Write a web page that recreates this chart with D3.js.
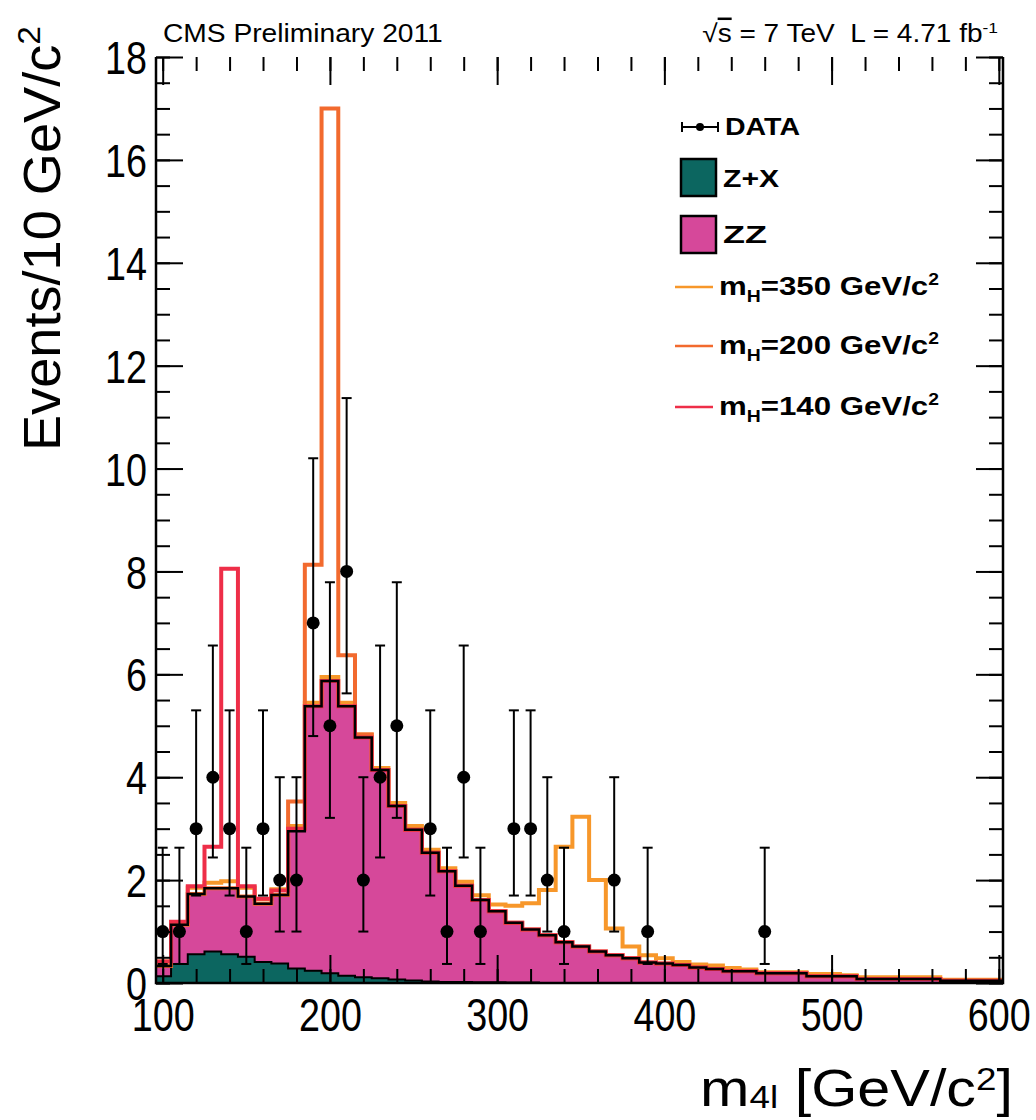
<!DOCTYPE html>
<html>
<head>
<meta charset="utf-8">
<script src="https://cdn.jsdelivr.net/npm/d3@7"></script>
<style>
body { margin:0; background:#fff }
svg { display:block }
text { font-family:'Liberation Sans', Arial, Helvetica, sans-serif; fill:#000; white-space:pre }
</style>
</head>
<body>
<div id="chart"></div>
<script>
// bin centres, 10 GeV wide
var massBins = [100,110,120,130,140,150,160,170,180,190,200,210,220,230,240,250,260,270,280,290,300,
	310,320,330,340,350,360,370,380,390,400,410,420,430,440,450,460,470,480,490,500,
	510,520,530,540,550,560,570,580,590,600]

var zxYield = [0.13,0.37,0.56,0.61,0.56,0.51,0.41,0.38,0.28,0.24,0.19,0.14,0.11,0.09,0.07,0.05,0.03,0.02,0.02,0.015,0.015,
	0.01,0.01,0,0,0,0,0,0,0,0,0,0,0,0,0,0,0,0,0,0,
	0,0,0,0,0,0,0,0,0,0]

var zzYield = [0.20,0.76,1.17,1.23,1.28,1.17,1.13,1.33,2.67,5.14,5.68,5.24,4.66,4.05,3.37,2.93,2.50,2.15,1.87,1.60,1.38,
	1.16,1.03,0.93,0.79,0.71,0.61,0.54,0.48,0.40,0.38,0.35,0.30,0.27,0.23,0.23,0.19,0.19,0.19,0.13,0.13,
	0.13,0.08,0.08,0.08,0.08,0.08,0.045,0.045,0.045,0.045]

// signal on top of the background
var sig350 = [0.09,0.05,0.12,0.11,0.14,0.17,0.09,0.11,0.10,0.07,0.08,0.07,0.06,0.04,0.06,0.07,0.06,0.06,0.08,0.09,0.13,
	0.33,0.51,0.88,1.86,2.52,1.39,0.52,0.23,0.14,0.10,0.06,0.06,0.07,0.06,0.03,0.02,0.02,0.02,0.045,0.045,
	0.02,0.03,0.03,0.03,0.03,0.03,0.02,0.02,0.02,0.02]

var sig200 = [0,0,0,0,0,0,0,0,0.58,2.75,11.13,0.99,0.06,0,0,0,0,0,0,0,0,
	0,0,0,0,0,0,0,0,0,0,0,0,0,0,0,0,0,0,0,0,
	0,0,0,0,0,0,0,0,0,0]

var sig140 = [0.09,0.06,0.15,0.81,6.21,0.20,0.10,0.09,0.05,0,0,0,0,0,0,0,0,0,0,0,0,
	0,0,0,0,0,0,0,0,0,0,0,0,0,0,0,0,0,0,0,0,
	0,0,0,0,0,0,0,0,0,0]

var dataMass  = [100,110,120,130,140,150,160,170,180,190,200,210,220,230,240,260,270,280,290,310,320,330,340,370,390,460]
var dataCount = [1,1,3,4,3,1,3,2,2,7,5,8,2,4,5,3,1,4,1,3,3,2,1,2,1,1]
var dataErrDown = [0.63,0.63,1.3,1.56,1.3,0.63,1.3,1.0,1.0,2.2,1.79,2.37,1.0,1.56,1.79,1.3,0.63,1.56,0.63,1.3,1.3,1.0,0.63,1.0,0.63,0.63]
var dataErrUp   = [1.63,1.63,2.3,2.56,2.3,1.63,2.3,2.0,2.0,3.2,2.79,3.37,2.0,2.56,2.79,2.3,1.63,2.56,1.63,2.3,2.3,2.0,1.63,2.0,1.63,1.63]

var xTickLabels = [100,200,300,400,500,600]
var yTickLabels = [0,2,4,6,8,10,12,14,16,18]

var colZX = '#0c6660', colZZ = '#d6489a'
var col350 = '#f7972a', col200 = '#f26a2e', col140 = '#ee2e48'

var W = 1036, H = 1120
var svg = d3.select('#chart').append('svg').attr('width', W).attr('height', H)

var x = d3.scaleLinear().domain([96, 602.5]).range([156, 1003])
var y = d3.scaleLinear().domain([0, 18]).range([983, 57])

svg.append('clipPath').attr('id','plotclip')
	.append('rect').attr('x', x(96)).attr('y', 0).attr('width', x(602.5) - x(96)).attr('height', y(0))

// stacked totals
var zxTop = zxYield.slice()
var bkgTop = zxYield.map(function(v,i){ return v + zzYield[i] })
var tot350 = bkgTop.map(function(v,i){ return v + sig350[i] })
var tot200 = bkgTop.map(function(v,i){ return v + sig200[i] })
var tot140 = bkgTop.map(function(v,i){ return v + sig140[i] })

function steps(vals) {
	var pts = massBins.map(function(m,i){ return [m - 5, vals[i]] })
	pts.push([massBins[massBins.length-1] + 5, vals[vals.length-1]])
	return pts
}

var line = d3.line().x(function(d){ return x(d[0]) }).y(function(d){ return y(d[1]) }).curve(d3.curveStepAfter)
var area = d3.area().x(function(d){ return x(d[0]) }).y0(y(0)).y1(function(d){ return y(d[1]) }).curve(d3.curveStepAfter)

var plot = svg.append('g').attr('clip-path','url(#plotclip)')

plot.append('path').attr('d', area(steps(bkgTop))).attr('fill', colZZ)
plot.append('path').attr('d', area(steps(zxTop))).attr('fill', colZX)
plot.append('path').attr('d', line(steps(zxTop))).attr('fill','none').attr('stroke','#000').attr('stroke-width',2)

plot.append('path').attr('d', line(steps(tot350))).attr('fill','none').attr('stroke', col350).attr('stroke-width',4)
plot.append('path').attr('d', line(steps(tot200))).attr('fill','none').attr('stroke', col200).attr('stroke-width',4)
plot.append('path').attr('d', line(steps(tot140))).attr('fill','none').attr('stroke', col140).attr('stroke-width',4)

plot.append('path').attr('d', line(steps(bkgTop))).attr('fill','none').attr('stroke','#000').attr('stroke-width',2.5)

// data points
var pts = svg.append('g').selectAll('g')
	.data(dataMass.map(function(m,i){ return {m:m, n:dataCount[i], lo:dataCount[i]-dataErrDown[i], hi:dataCount[i]+dataErrUp[i]} }))
	.enter().append('g')
pts.append('line').attr('x1', function(d){ return x(d.m) }).attr('x2', function(d){ return x(d.m) })
	.attr('y1', function(d){ return y(d.lo) }).attr('y2', function(d){ return y(d.hi) })
	.attr('stroke','#000').attr('stroke-width',2)
pts.append('line').attr('x1', function(d){ return x(d.m) - 5 }).attr('x2', function(d){ return x(d.m) + 5 })
	.attr('y1', function(d){ return y(d.lo) }).attr('y2', function(d){ return y(d.lo) })
	.attr('stroke','#000').attr('stroke-width',2)
pts.append('line').attr('x1', function(d){ return x(d.m) - 5 }).attr('x2', function(d){ return x(d.m) + 5 })
	.attr('y1', function(d){ return y(d.hi) }).attr('y2', function(d){ return y(d.hi) })
	.attr('stroke','#000').attr('stroke-width',2)
pts.append('circle').attr('cx', function(d){ return x(d.m) }).attr('cy', function(d){ return y(d.n) })
	.attr('r', 6.5).attr('fill','#000')

// axes ticks
var xMinor = d3.range(100, 601, 20)
var yMinor = d3.range(0, 18.01, 0.5)
function noDomain(g) { g.select('.domain').remove(); g.selectAll('line').attr('stroke','#000').attr('stroke-width',2) }

svg.append('g').attr('transform','translate(0,'+y(0)+')')
	.call(d3.axisBottom(x).tickValues(xMinor).tickSize(-14).tickFormat('')).call(noDomain)
svg.append('g').attr('transform','translate(0,'+y(18)+')')
	.call(d3.axisTop(x).tickValues(xMinor).tickSize(-14).tickFormat('')).call(noDomain)
svg.append('g').attr('transform','translate(0,'+y(18)+')')
	.call(d3.axisTop(x).tickValues(xTickLabels).tickSize(-28).tickFormat('')).call(noDomain)
svg.append('g').attr('transform','translate('+x(96)+',0)')
	.call(d3.axisLeft(y).tickValues(yMinor).tickSize(-14).tickFormat('')).call(noDomain)
svg.append('g').attr('transform','translate('+x(602.5)+',0)')
	.call(d3.axisRight(y).tickValues(yMinor).tickSize(-14).tickFormat('')).call(noDomain)
svg.append('g').attr('transform','translate('+x(602.5)+',0)')
	.call(d3.axisRight(y).tickValues(yTickLabels).tickSize(-27).tickFormat('')).call(noDomain)

var narrow = 0.82
var xAx = svg.append('g').attr('transform','translate(0,'+y(0)+')')
	.call(d3.axisBottom(x).tickValues(xTickLabels).tickSize(-28).tickPadding(15).tickFormat(d3.format('d')))
	.call(noDomain)
xAx.selectAll('text').attr('font-size', 46).attr('fill','#000').style('font-family',"'Liberation Sans', Arial, sans-serif")
	.attr('transform','scale('+narrow+',1)')

var yAx = svg.append('g').attr('transform','translate('+x(96)+',0)')
	.call(d3.axisLeft(y).tickValues(yTickLabels).tickSize(-27).tickPadding(9).tickFormat(d3.format('d')))
	.call(noDomain)
yAx.selectAll('text').attr('font-size', 46).attr('fill','#000').style('font-family',"'Liberation Sans', Arial, sans-serif")
	.attr('x', -9 / narrow).attr('dy','0.36em')
	.attr('transform','scale('+narrow+',1)')

// frame (no top line in the original)
svg.append('path')
	.attr('d', 'M'+x(96)+','+y(18)+'V'+y(0)+'H'+x(602.5)+'V'+y(18))
	.attr('fill','none').attr('stroke','#000').attr('stroke-width',2.5)

// text helper: parts = [[str, 'n'|'sub'|'sup', decoration], ...]
function label(px, py, anchor, size, weight, parts, targetW, rot, subK, supK) {
	subK = subK === undefined ? 0.28 : subK
	supK = supK === undefined ? 0.38 : supK
	var g = svg.append('g')
	var t = g.append('text').attr('text-anchor', anchor).attr('font-size', size).attr('font-weight', weight)
	var shift = 0
	parts.forEach(function(p){
		var ts = t.append('tspan').text(p[0])
		var want = p[1] === 'sub' ? size*subK : p[1] === 'sup' ? -size*supK : 0
		if (p[1] !== 'n') ts.attr('font-size', size*0.62)
		if (want - shift !== 0) ts.attr('dy', want - shift)
		shift = want
		if (p[2]) ts.attr('text-decoration', p[2])
	})
	var w = t.node().getBBox().width
	var sx = targetW ? targetW / w : 1
	g.attr('transform','translate('+px+','+py+')' + (rot ? ' rotate('+rot+')' : '') + ' scale('+sx+',1)')
	return g
}

label(163, 42, 'start', 25, 'normal', [['CMS Preliminary 2011','n']], 280)
label(998, 42, 'end', 25, 'normal', [['\u221A','n'],['s','n','overline'],[' = 7 TeV  L = 4.71 fb','n'],['-1','sup']], 296)

label(60, 451, 'start', 52, 'normal', [['Events/10 GeV/c','n'],['2','sup']], 425, -90)
label(1013, 1106, 'end', 52, 'normal', [['m','n'],['4l','sub'],[' [GeV/c','n'],['2','sup'],[']','n']], 313, 0, 0.04, 0.3)

// legend
var lg = svg.append('g')
lg.append('line').attr('x1',682).attr('x2',718).attr('y1',127).attr('y2',127).attr('stroke','#000').attr('stroke-width',2)
lg.append('line').attr('x1',682).attr('x2',682).attr('y1',122).attr('y2',132).attr('stroke','#000').attr('stroke-width',2)
lg.append('line').attr('x1',718).attr('x2',718).attr('y1',122).attr('y2',132).attr('stroke','#000').attr('stroke-width',2)
lg.append('circle').attr('cx',700).attr('cy',127).attr('r',4).attr('fill','#000')
label(725, 135, 'start', 24, 'bold', [['DATA','n']], 75)

lg.append('rect').attr('x',681).attr('y',159).attr('width',35).attr('height',37).attr('fill',colZX).attr('stroke','#000').attr('stroke-width',2.5)
label(723, 187, 'start', 23, 'bold', [['Z+X','n']], 57)
lg.append('rect').attr('x',681).attr('y',216).attr('width',35).attr('height',37).attr('fill',colZZ).attr('stroke','#000').attr('stroke-width',2.5)
label(723, 243, 'start', 23, 'bold', [['ZZ','n']], 44)

var sigLegend = [[col350,'350',287],[col200,'200',346],[col140,'140',407]]
sigLegend.forEach(function(s){
	lg.append('line').attr('x1',675).attr('x2',713).attr('y1',s[2]).attr('y2',s[2]).attr('stroke',s[0]).attr('stroke-width',2.5)
	label(719, s[2] + 8, 'start', 26, 'bold', [['m','n'],['H','sub'],['='+s[1]+' GeV/c','n'],['2','sup']], 220)
})
</script>
</body>
</html>
